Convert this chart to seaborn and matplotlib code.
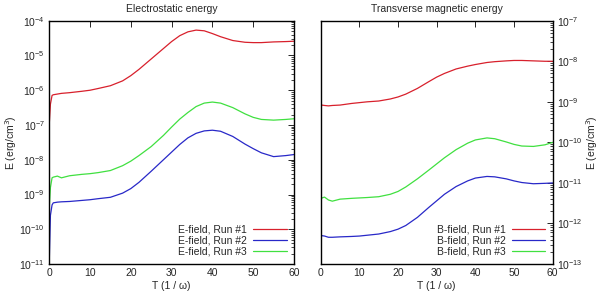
import seaborn as sns
import matplotlib.pyplot as plt
import matplotlib.ticker as mticker
import pandas as pd
import numpy as np

# time samples (1/omega)
t_e = [0, 0.3, 0.7, 1, 2, 3, 5, 8, 10, 12, 15, 18, 20, 22, 25, 28, 30, 32, 34, 36, 38, 40, 42, 45, 48, 50, 52, 55, 58, 60]
# log10 of energy density
e_run1 = [-7.0, -6.4, -6.15, -6.13, -6.11, -6.09, -6.07, -6.03, -6.0, -5.95, -5.87, -5.73, -5.58, -5.40, -5.1, -4.8, -4.6, -4.43, -4.32, -4.27, -4.29, -4.37, -4.46, -4.57, -4.62, -4.63, -4.63, -4.61, -4.60, -4.59]
e_run2 = [-11.0, -9.6, -9.3, -9.24, -9.22, -9.21, -9.2, -9.17, -9.15, -9.12, -9.08, -8.96, -8.83, -8.65, -8.33, -8.0, -7.78, -7.56, -7.37, -7.24, -7.17, -7.15, -7.18, -7.33, -7.55, -7.68, -7.80, -7.91, -7.88, -7.85]
e_run3 = [-9.4, -8.8, -8.52, -8.5, -8.47, -8.52, -8.46, -8.42, -8.4, -8.37, -8.31, -8.17, -8.04, -7.88, -7.62, -7.3, -7.06, -6.83, -6.64, -6.47, -6.37, -6.34, -6.37, -6.5, -6.68, -6.78, -6.84, -6.86, -6.84, -6.82]

t_b = [0, 0.3, 1, 2, 3, 5, 8, 10, 12, 15, 18, 20, 22, 25, 28, 30, 32, 35, 38, 40, 43, 45, 48, 50, 52, 55, 58, 60]
b_run1 = [-9.16, -9.08, -9.09, -9.1, -9.09, -9.08, -9.04, -9.02, -9.0, -8.98, -8.93, -8.88, -8.81, -8.67, -8.50, -8.39, -8.30, -8.19, -8.12, -8.08, -8.03, -8.01, -7.99, -7.98, -7.98, -7.99, -8.0, -8.0]
b_run2 = [-12.36, -12.30, -12.31, -12.34, -12.34, -12.33, -12.32, -12.31, -12.29, -12.26, -12.2, -12.14, -12.05, -11.85, -11.6, -11.44, -11.28, -11.09, -10.95, -10.88, -10.84, -10.85, -10.9, -10.95, -10.99, -11.02, -11.01, -11.0]
b_run3 = [-11.44, -11.37, -11.35, -11.42, -11.45, -11.40, -11.38, -11.37, -11.36, -11.34, -11.28, -11.21, -11.1, -10.90, -10.68, -10.53, -10.38, -10.18, -10.02, -9.94, -9.89, -9.91, -9.99, -10.05, -10.09, -10.1, -10.06, -10.0]

e_labels = ["E-field, Run #1", "E-field, Run #2", "E-field, Run #3"]
b_labels = ["B-field, Run #1", "B-field, Run #2", "B-field, Run #3"]
colors = ["#d8202c", "#2828c8", "#40e040"]

sns.set_style("white")
plt.rcParams["font.family"] = ["Liberation Sans", "DejaVu Sans"]
plt.rcParams["mathtext.fontset"] = "dejavusans"

def long_frame(t, runs, labels):
    frames = []
    for vals, lab in zip(runs, labels):
        frames.append(pd.DataFrame({"T": t, "E": 10.0 ** np.array(vals), "run": lab}))
    return pd.concat(frames, ignore_index=True)

df_e = long_frame(t_e, [e_run1, e_run2, e_run3], e_labels)
df_b = long_frame(t_b, [b_run1, b_run2, b_run3], b_labels)

fig = plt.figure(figsize=(6, 2.96), dpi=100)
ax1 = fig.add_axes([0.082, 0.108, 0.408, 0.822])
ax2 = fig.add_axes([0.5345, 0.108, 0.3867, 0.822])

sns.lineplot(data=df_e, x="T", y="E", hue="run", palette=colors, lw=0.9, ax=ax1)
sns.lineplot(data=df_b, x="T", y="E", hue="run", palette=colors, lw=0.9, ax=ax2)

for ax, lo, hi, title in [(ax1, 1e-11, 1e-4, "Electrostatic energy"),
                          (ax2, 1e-13, 1e-7, "Transverse magnetic energy")]:
    ax.set_yscale("log")
    ax.set_ylim(lo, hi)
    ax.set_xlim(0, 60)
    ax.set_xticks(range(0, 61, 10))
    ax.yaxis.set_major_locator(mticker.LogLocator(base=10, numticks=20))
    ax.yaxis.set_minor_locator(mticker.LogLocator(base=10, subs=np.arange(2, 10), numticks=20))
    ax.yaxis.set_minor_formatter(mticker.NullFormatter())
    ax.set_title(title, fontsize=7.5, pad=6)
    ax.set_xlabel("T (1 / \u03c9)", fontsize=7.5, labelpad=2)
    ax.set_ylabel("E (erg/cm$^3$)", fontsize=7.5)
    for s in ax.spines.values():
        s.set_linewidth(1.0)
        s.set_color("black")
    ax.tick_params(which="major", direction="in", length=4, width=0.7, labelsize=7.5, pad=3)
    ax.tick_params(which="minor", direction="in", length=2, width=0.6)
    leg = ax.legend(loc="lower right", frameon=False, fontsize=7.5, markerfirst=False,
                    handlelength=3.2, labelspacing=0.1, borderaxespad=0.3, handletextpad=0.6)

ax1.tick_params(which="both", top=True, right=True)
ax1.tick_params(axis="x", which="minor", top=False, bottom=False)
ax2.yaxis.tick_right()
ax2.yaxis.set_label_position("right")
ax2.tick_params(which="both", top=True, right=True, left=False)
ax2.tick_params(axis="x", which="minor", top=False, bottom=False)
ax1.yaxis.labelpad = 0
ax2.yaxis.labelpad = 1

plt.savefig("out.png", dpi=100)
